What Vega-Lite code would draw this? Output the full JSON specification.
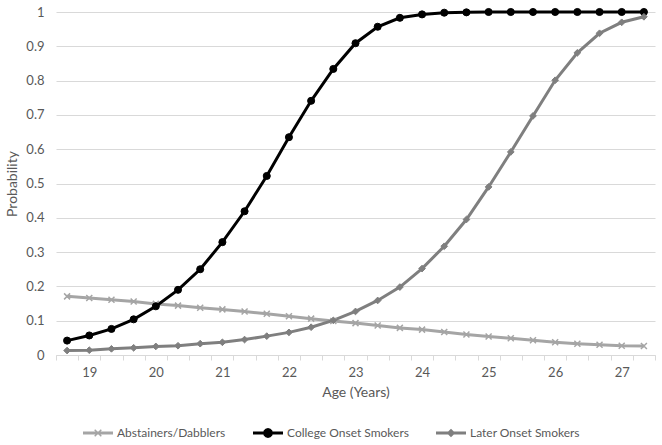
{
  "$schema": "https://vega.github.io/schema/vega-lite/v6.json",
  "width": 599,
  "height": 343,
  "autosize": "none",
  "padding": {"left": 56, "top": 12, "right": 7, "bottom": 90},
  "background": "white",
  "config": {
    "view": {"stroke": null},
    "font": "Lato",
    "axis": {"labelFont": "Lato", "titleFont": "Lato", "labelColor": "#595959", "titleColor": "#595959", "labelFontSize": 13, "titleFontSize": 14, "titleFontWeight": "normal"},
    "legend": {"labelFont": "Lato", "labelColor": "#595959", "labelFontSize": 12}
  },
  "data": {
    "values": [
      {"age": 18.6667, "Abstainers/Dabblers": 0.171, "College Onset Smokers": 0.042, "Later Onset Smokers": 0.013},
      {"age": 19, "Abstainers/Dabblers": 0.166, "College Onset Smokers": 0.057, "Later Onset Smokers": 0.014},
      {"age": 19.3333, "Abstainers/Dabblers": 0.161, "College Onset Smokers": 0.076, "Later Onset Smokers": 0.018},
      {"age": 19.6667, "Abstainers/Dabblers": 0.156, "College Onset Smokers": 0.104, "Later Onset Smokers": 0.021},
      {"age": 20, "Abstainers/Dabblers": 0.149, "College Onset Smokers": 0.142, "Later Onset Smokers": 0.025},
      {"age": 20.3333, "Abstainers/Dabblers": 0.144, "College Onset Smokers": 0.19, "Later Onset Smokers": 0.027},
      {"age": 20.6667, "Abstainers/Dabblers": 0.138, "College Onset Smokers": 0.25, "Later Onset Smokers": 0.033},
      {"age": 21, "Abstainers/Dabblers": 0.133, "College Onset Smokers": 0.329, "Later Onset Smokers": 0.037},
      {"age": 21.3333, "Abstainers/Dabblers": 0.127, "College Onset Smokers": 0.419, "Later Onset Smokers": 0.045},
      {"age": 21.6667, "Abstainers/Dabblers": 0.12, "College Onset Smokers": 0.522, "Later Onset Smokers": 0.055},
      {"age": 22, "Abstainers/Dabblers": 0.113, "College Onset Smokers": 0.635, "Later Onset Smokers": 0.066},
      {"age": 22.3333, "Abstainers/Dabblers": 0.106, "College Onset Smokers": 0.741, "Later Onset Smokers": 0.081},
      {"age": 22.6667, "Abstainers/Dabblers": 0.099, "College Onset Smokers": 0.834, "Later Onset Smokers": 0.101},
      {"age": 23, "Abstainers/Dabblers": 0.093, "College Onset Smokers": 0.909, "Later Onset Smokers": 0.127},
      {"age": 23.3333, "Abstainers/Dabblers": 0.086, "College Onset Smokers": 0.957, "Later Onset Smokers": 0.159},
      {"age": 23.6667, "Abstainers/Dabblers": 0.079, "College Onset Smokers": 0.983, "Later Onset Smokers": 0.198},
      {"age": 24, "Abstainers/Dabblers": 0.074, "College Onset Smokers": 0.993, "Later Onset Smokers": 0.252},
      {"age": 24.3333, "Abstainers/Dabblers": 0.067, "College Onset Smokers": 0.998, "Later Onset Smokers": 0.317},
      {"age": 24.6667, "Abstainers/Dabblers": 0.06, "College Onset Smokers": 0.999, "Later Onset Smokers": 0.395},
      {"age": 25, "Abstainers/Dabblers": 0.054, "College Onset Smokers": 1, "Later Onset Smokers": 0.49},
      {"age": 25.3333, "Abstainers/Dabblers": 0.049, "College Onset Smokers": 1, "Later Onset Smokers": 0.592},
      {"age": 25.6667, "Abstainers/Dabblers": 0.043, "College Onset Smokers": 1, "Later Onset Smokers": 0.697},
      {"age": 26, "Abstainers/Dabblers": 0.037, "College Onset Smokers": 1, "Later Onset Smokers": 0.801},
      {"age": 26.3333, "Abstainers/Dabblers": 0.033, "College Onset Smokers": 1, "Later Onset Smokers": 0.881},
      {"age": 26.6667, "Abstainers/Dabblers": 0.03, "College Onset Smokers": 1, "Later Onset Smokers": 0.938},
      {"age": 27, "Abstainers/Dabblers": 0.027, "College Onset Smokers": 1, "Later Onset Smokers": 0.97},
      {"age": 27.3333, "Abstainers/Dabblers": 0.026, "College Onset Smokers": 1, "Later Onset Smokers": 0.986}
    ]
  },
  "transform": [
    {"fold": ["Abstainers/Dabblers", "College Onset Smokers", "Later Onset Smokers"], "as": ["series", "p"]}
  ],
  "encoding": {
    "x": {
      "field": "age", "type": "quantitative",
      "scale": {"domain": [18.5, 27.5], "nice": false, "zero": false},
      "axis": {
        "title": "Age (Years)",
        "values": [18.5, 18.8333, 19, 19.1667, 19.5, 19.8333, 20, 20.1667, 20.5, 20.8333, 21, 21.1667, 21.5, 21.8333, 22, 22.1667, 22.5, 22.8333, 23, 23.1667, 23.5, 23.8333, 24, 24.1667, 24.5, 24.8333, 25, 25.1667, 25.5, 25.8333, 26, 26.1667, 26.5, 26.8333, 27, 27.1667, 27.5],
        "labelExpr": "datum.value % 1 === 0 ? '' + datum.value : ''",
        "labelOverlap": false,
        "labelBound": false,
        "labelFlush": false,
        "grid": false,
        "domainColor": "#d9d9d9",
        "tickColor": "#d9d9d9",
        "tickSize": 5,
        "tickOpacity": {"condition": {"test": "datum.value % 1 === 0", "value": 0}, "value": 1},
        "labelPadding": 6,
        "titlePadding": 6
      }
    },
    "y": {
      "field": "p", "type": "quantitative",
      "scale": {"domain": [0, 1], "nice": false},
      "axis": {
        "title": "Probability",
        "values": [0, 0.1, 0.2, 0.3, 0.4, 0.5, 0.6, 0.7, 0.8, 0.9, 1],
        "format": "~g",
        "domain": false,
        "ticks": false,
        "tickSize": 0,
        "labelPadding": 12,
        "titlePadding": 6,
        "gridColor": "#d9d9d9",
        "gridWidth": 1
      }
    }
  },
  "layer": [
    {
      "transform": [{"filter": "datum.p < 0"}],
      "mark": {"type": "point", "filled": true, "opacity": 1, "size": 900},
      "encoding": {
        "color": {
          "field": "series", "type": "nominal",
          "scale": {"domain": ["Abstainers/Dabblers", "College Onset Smokers", "Later Onset Smokers"], "range": ["#a5a5a5", "#000000", "#7f7f7f"]},
          "legend": {
            "title": null,
            "orient": "none",
            "direction": "horizontal",
            "columns": 3,
            "legendX": 27,
            "legendY": 406,
            "columnPadding": 27,
            "labelOffset": 4,
            "symbolSize": 900,
            "symbolOpacity": 1,
            "symbolStrokeWidth": 0
          }
        },
        "shape": {"field": "series", "type": "nominal", "scale": {"domain": ["Abstainers/Dabblers", "College Onset Smokers", "Later Onset Smokers"], "range": [
          "M-1,-0.1L1,-0.1L1,0.1L-1,0.1ZM-0.185,-0.255L0.255,0.185L0.185,0.255L-0.255,-0.185ZM0.255,-0.185L-0.185,0.255L-0.255,0.185L0.185,-0.255Z",
          "M-1,-0.1L1,-0.1L1,0.1L-1,0.1ZM0.33,0L0.2858,0.165L0.165,0.2858L0,0.33L-0.165,0.2858L-0.2858,0.165L-0.33,0L-0.2858,-0.165L-0.165,-0.2858L0,-0.33L0.165,-0.2858L0.2858,-0.165Z",
          "M-1,-0.1L1,-0.1L1,0.1L-1,0.1ZM0,-0.29L0.29,0L0,0.29L-0.29,0Z"]}, "legend": {"title": null}}
      }
    },
    {
      "mark": {"type": "line", "strokeWidth": 3},
      "encoding": {
        "color": {"field": "series", "type": "nominal", "legend": null}
      }
    },
    {
      "transform": [{"filter": "datum.series === 'Abstainers/Dabblers'"}],
      "mark": {"type": "point", "shape": "M-1,-1L1,1M-1,1L1,-1", "filled": true, "fill": "#a5a5a5", "stroke": "#a5a5a5", "strokeWidth": 1.5, "size": 36, "opacity": 1}
    },
    {
      "transform": [{"filter": "datum.series === 'College Onset Smokers'"}],
      "mark": {"type": "point", "shape": "circle", "filled": true, "fill": "#000000", "stroke": "#000000", "strokeWidth": 1, "size": 50, "opacity": 1}
    },
    {
      "transform": [{"filter": "datum.series === 'Later Onset Smokers'"}],
      "mark": {"type": "point", "shape": "diamond", "filled": true, "fill": "#7f7f7f", "stroke": "#7f7f7f", "strokeWidth": 1, "size": 45, "opacity": 1}
    }
  ]
}
